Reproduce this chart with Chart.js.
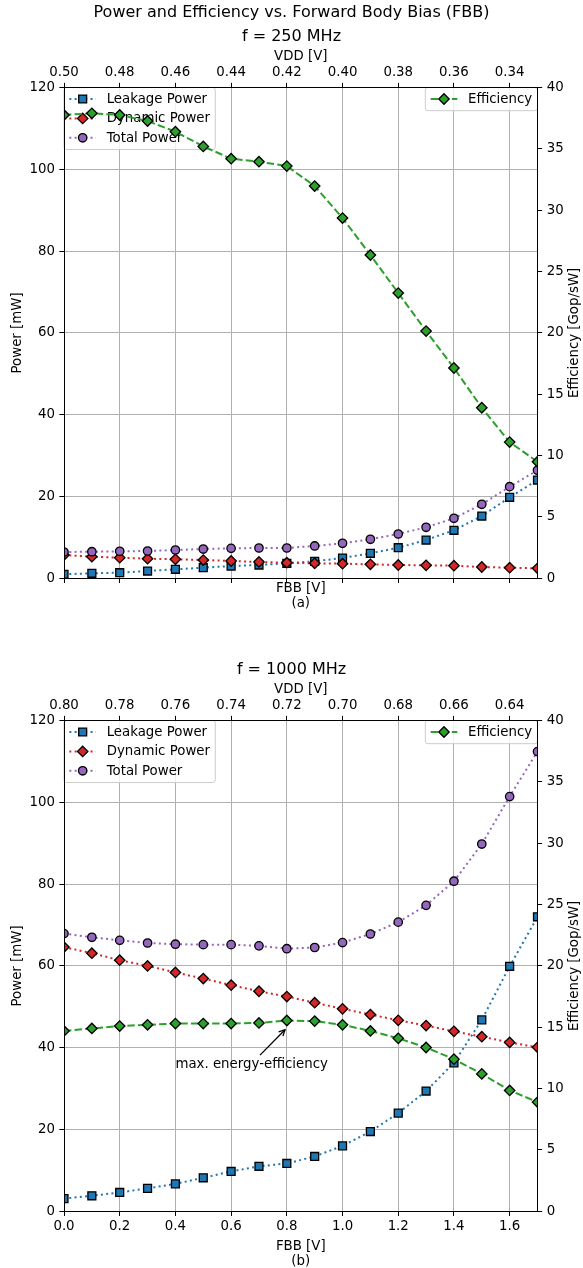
<!DOCTYPE html>
<html><head><meta charset="utf-8">
<script src="https://cdn.jsdelivr.net/npm/chart.js@4/dist/chart.umd.min.js"></script>
<style>
html,body{margin:0;padding:0;background:#fff;overflow:hidden;width:583px;height:1268px;}
canvas{position:absolute;left:0;}
#c1{top:0;}
#c2{top:633px;}
</style></head><body>
<canvas id="c1" width="583" height="611"></canvas>
<canvas id="c2" width="583" height="636"></canvas>
<script>
// ---------- data ----------
const fbb = [0.0,0.1,0.2,0.3,0.4,0.5,0.6,0.7,0.8,0.9,1.0,1.1,1.2,1.3,1.4,1.5,1.6,1.7];
const fbbTicks = [0.0,0.2,0.4,0.6,0.8,1.0,1.2,1.4,1.6];
const fbbTickLabels = ['0.0','0.2','0.4','0.6','0.8','1.0','1.2','1.4','1.6'];
const vddTicks250 = ['0.50','0.48','0.46','0.44','0.42','0.40','0.38','0.36','0.34'];
const vddTicks1000 = ['0.80','0.78','0.76','0.74','0.72','0.70','0.68','0.66','0.64'];

const leakage250 = [0.98,1.22,1.37,1.78,2.2,2.59,3.0,3.25,3.67,4.16,4.96,6.11,7.48,9.36,11.74,15.23,19.8,24.03];
const dynamic250 = [5.7,5.28,5.04,4.79,4.65,4.47,4.23,3.99,3.81,3.67,3.57,3.42,3.25,3.18,3.08,2.76,2.59,2.44];
const total250   = [6.43,6.5,6.6,6.67,6.92,7.16,7.33,7.41,7.41,7.9,8.56,9.54,10.83,12.47,14.67,18.09,22.4,26.41];
const eff250     = [37.76,37.9,37.76,37.27,36.4,35.2,34.2,33.95,33.6,31.97,29.36,26.35,23.25,20.15,17.14,13.9,11.1,9.5];

const leakage1000 = [3.1,3.8,4.6,5.6,6.7,8.2,9.75,11.0,11.7,13.4,16.0,19.5,24.0,29.4,36.3,46.8,59.9,72.0];
const dynamic1000 = [64.6,63.1,61.4,60.0,58.4,56.9,55.3,53.8,52.5,51.0,49.5,48.1,46.7,45.4,44.0,42.7,41.3,40.1];
const total1000   = [67.9,67.0,66.25,65.6,65.3,65.2,65.2,64.9,64.2,64.5,65.7,67.8,70.7,74.8,80.7,89.8,101.4,112.4];
const eff1000     = [14.7,14.9,15.1,15.2,15.3,15.3,15.3,15.35,15.55,15.5,15.2,14.7,14.1,13.35,12.4,11.2,9.85,8.9];

// ---------- styling ----------
const FONT = '"DejaVu Sans"';
const FS = 13.33;
const TFS = 16;
const LW = 2;
const DOT = [2, 3.3];
const DASH = [7.4, 3.2];
const C_LEAK = '#1f77b4', C_DYN = '#d62728', C_TOT = '#9467bd', C_EFF = '#2ca02c';

function ds(label, ys, color, dash, style, r, order, axis) {
  return {
    label, data: fbb.map((x, i) => ({x, y: ys[i]})),
    borderColor: color, backgroundColor: color, borderWidth: LW, borderDash: dash,
    pointStyle: style, pointRadius: r, pointHoverRadius: r,
    pointBackgroundColor: color, pointBorderColor: '#000', pointBorderWidth: 1.33,
    tension: 0, order, yAxisID: axis, fill: false, clip: 0
  };
}

function markerPath(ctx, style, x, y, r) {
  ctx.beginPath();
  if (style === 'rect') { const s = r * Math.SQRT1_2; ctx.rect(x - s, y - s, 2 * s, 2 * s); }
  else if (style === 'rectRot') { ctx.moveTo(x, y - r); ctx.lineTo(x + r, y); ctx.lineTo(x, y + r); ctx.lineTo(x - r, y); ctx.closePath(); }
  else { ctx.arc(x, y, r, 0, Math.PI * 2); }
}

function drawLegend(chart, idxs, corner) {
  const ctx = chart.ctx, ca = chart.chartArea;
  ctx.save();
  ctx.font = FS + 'px ' + FONT;
  const pad = 0.4 * FS, hl = 2 * FS, tp = 0.8 * FS, rowH = 19.4;
  const items = idxs.map(i => chart.data.datasets[i]);
  const maxW = Math.max(...items.map(d => ctx.measureText(d.label).width));
  const w = pad + hl + tp + maxW + pad;
  const h = 23.2 + (items.length - 1) * rowH;
  const x0 = corner === 'left' ? ca.left : ca.right - w;
  const y0 = ca.top;
  const rr = 2.6;
  ctx.beginPath();
  ctx.moveTo(x0 + rr, y0); ctx.lineTo(x0 + w - rr, y0); ctx.arcTo(x0 + w, y0, x0 + w, y0 + rr, rr);
  ctx.lineTo(x0 + w, y0 + h - rr); ctx.arcTo(x0 + w, y0 + h, x0 + w - rr, y0 + h, rr);
  ctx.lineTo(x0 + rr, y0 + h); ctx.arcTo(x0, y0 + h, x0, y0 + h - rr, rr);
  ctx.lineTo(x0, y0 + rr); ctx.arcTo(x0, y0, x0 + rr, y0, rr); ctx.closePath();
  ctx.fillStyle = 'rgba(255,255,255,0.8)'; ctx.fill();
  ctx.strokeStyle = '#cccccc'; ctx.lineWidth = 1; ctx.stroke();
  items.forEach((d, i) => {
    const cy = y0 + 11.5 + i * rowH;
    ctx.beginPath(); ctx.setLineDash(d.borderDash); ctx.strokeStyle = d.borderColor; ctx.lineWidth = LW;
    ctx.moveTo(x0 + pad, cy); ctx.lineTo(x0 + pad + hl, cy); ctx.stroke();
    ctx.setLineDash([]);
    markerPath(ctx, d.pointStyle, x0 + pad + hl / 2, cy, d.pointRadius);
    ctx.fillStyle = d.pointBackgroundColor; ctx.fill();
    ctx.strokeStyle = '#000'; ctx.lineWidth = 1.33; ctx.stroke();
    ctx.fillStyle = '#000'; ctx.textAlign = 'left'; ctx.textBaseline = 'middle';
    ctx.fillText(d.label, x0 + pad + hl + tp, cy + 0.5);
  });
  ctx.restore();
}

const figPlugin = {
  id: 'figPlugin',
  beforeDatasetDraw(chart, args) {
    if (args.index === 3) drawLegend(chart, [0, 1, 2], 'left');
  },
  afterDatasetsDraw(chart, args, opts) {
    drawLegend(chart, [3], 'right');
    const an = opts.annotation;
    if (an) {
      const ctx = chart.ctx, xs = chart.scales.x, ys = chart.scales.y2;
      ctx.save();
      ctx.font = FS + 'px ' + FONT;
      ctx.fillStyle = '#000'; ctx.textAlign = 'left'; ctx.textBaseline = 'alphabetic';
      const tx = xs.getPixelForValue(an.textX), ty = ys.getPixelForValue(an.textY);
      ctx.fillText(an.text, tx, ty);
      const tw = ctx.measureText(an.text).width;
      const cx = tx + tw / 2, cy = ty - 0.35 * FS;
      const px = xs.getPixelForValue(an.x), py = ys.getPixelForValue(an.y);
      let dx = px - cx, dy = py - cy; const L = Math.hypot(dx, dy); dx /= L; dy /= L;
      const top = ty - 0.85 * FS;
      const t = (top - cy) / dy;
      const sx = cx + dx * (t + 2.6), sy = cy + dy * (t + 2.6);
      const ex = px - dx * 2.6, ey = py - dy * 2.6;
      ctx.strokeStyle = '#000'; ctx.lineWidth = 1.3;
      ctx.beginPath(); ctx.moveTo(sx, sy); ctx.lineTo(ex, ey); ctx.stroke();
      const hlen = 6, hw = 3;
      const nx = -dy, ny = dx;
      ctx.beginPath();
      ctx.moveTo(ex - dx * hlen + nx * hw, ey - dy * hlen + ny * hw);
      ctx.lineTo(ex, ey);
      ctx.lineTo(ex - dx * hlen - nx * hw, ey - dy * hlen - ny * hw);
      ctx.stroke();
      ctx.restore();
    }
  },
  afterDraw(chart) {
    const ctx = chart.ctx, ca = chart.chartArea;
    ctx.save();
    ctx.font = FS + 'px ' + FONT; ctx.fillStyle = '#000';
    ctx.translate(575, (ca.top + ca.bottom) / 2); ctx.rotate(-Math.PI / 2);
    ctx.textAlign = 'center'; ctx.textBaseline = 'middle';
    ctx.fillText('Efficiency [Gop/sW]', 0, 0);
    ctx.restore();
  }
};

const tickFont = {family: FONT, size: FS, lineHeight: 1.2};
const border = {display: true, color: '#000', width: 1, z: 1};

function makeChart(id, cfg) {
  const setTicks = vals => s => { s.ticks = vals.map(v => ({value: v})); };
  const canvasH = document.getElementById(id).height;
  const tf = {family: FONT, size: TFS, weight: 'normal', lineHeight: 1.2};
  const titleBlock = cfg.sup ? {
    title: {display: true, text: cfg.sup, color: '#000', font: tf, padding: {top: 3.4, bottom: 5.1}},
    subtitle: {display: true, text: cfg.sub, color: '#000', font: tf, padding: {top: 0, bottom: 0}}
  } : {
    title: {display: true, text: cfg.sub, color: '#000', font: tf, padding: {top: 27.7, bottom: 0}},
    subtitle: {display: false}
  };
  return new Chart(document.getElementById(id), {
    type: 'line',
    data: {datasets: [
      ds('Leakage Power', cfg.leak, C_LEAK, DOT, 'rect', 5.6, 4, 'y'),
      ds('Dynamic Power', cfg.dyn, C_DYN, DOT, 'rectRot', 5.2, 3, 'y'),
      ds('Total Power', cfg.tot, C_TOT, DOT, 'circle', 4.2, 2, 'y'),
      ds('Efficiency', cfg.eff, C_EFF, DASH, 'rectRot', 5.2, 1, 'y2')
    ]},
    options: {
      responsive: false, animation: false, devicePixelRatio: 1, events: [],
      layout: {padding: 0},
      plugins: Object.assign({legend: {display: false}, tooltip: {enabled: false},
        figPlugin: {annotation: cfg.annotation}}, titleBlock),
      scales: {
        x: {
          type: 'linear', position: 'bottom', min: 0, max: 1.7,
          afterBuildTicks: setTicks(fbbTicks),
          afterFit: s => { s.height = canvasH - 578.3; },
          grid: {color: '#b0b0b0', lineWidth: 1, drawTicks: true, tickLength: 4.67, tickColor: '#000', tickWidth: 1},
          border,
          ticks: {display: cfg.showX, autoSkip: false, maxRotation: 0, color: '#000', font: tickFont, padding: 2.3,
            callback: (v, i) => fbbTickLabels[i]},
          title: {display: true, text: ['FBB [V]', cfg.tag], color: '#000', font: {family: FONT, size: FS, lineHeight: 1.13}, padding: {top: 0, bottom: 0}}
        },
        x2: {
          type: 'linear', position: 'top', min: 0, max: 1.7,
          afterBuildTicks: setTicks(fbbTicks),
          afterFit: s => { s.height = 40.6; },
          grid: {drawOnChartArea: false, drawTicks: true, tickLength: 4.67, tickColor: '#000', tickWidth: 1, color: '#000'},
          border,
          ticks: {autoSkip: false, maxRotation: 0, color: '#000', font: tickFont, padding: 2.3,
            callback: (v, i) => cfg.vdd[i]},
          title: {display: true, text: 'VDD [V]', color: '#000', font: {family: FONT, size: FS, lineHeight: 1.15}, padding: {top: 2.1, bottom: 0}}
        },
        y: {
          type: 'linear', position: 'left', min: 0, max: 120,
          afterFit: s => { s.width = 64; },
          grid: {color: '#b0b0b0', lineWidth: 1, drawTicks: true, tickLength: 4.67, tickColor: '#000', tickWidth: 1},
          border,
          ticks: {stepSize: 20, color: '#000', font: tickFont, padding: 4.4},
          title: {display: true, text: 'Power [mW]', color: '#000', font: {family: FONT, size: FS, lineHeight: 1.2}, padding: {top: 10, bottom: 0}}
        },
        y2: {
          type: 'linear', position: 'right', min: 0, max: 40,
          afterFit: s => { s.width = 45.5; },
          grid: {drawOnChartArea: false, drawTicks: true, tickLength: 4.67, tickColor: '#000', tickWidth: 1, color: '#000'},
          border,
          ticks: {stepSize: 5, color: '#000', font: tickFont, padding: 4.5}
        }
      }
    },
    plugins: [figPlugin]
  });
}

makeChart('c1', {
  sup: 'Power and Efficiency vs. Forward Body Bias (FBB)', sub: 'f = 250 MHz', tag: '(a)',
  leak: leakage250, dyn: dynamic250, tot: total250, eff: eff250, vdd: vddTicks250, showX: false
});
makeChart('c2', {
  sub: 'f = 1000 MHz', tag: '(b)',
  leak: leakage1000, dyn: dynamic1000, tot: total1000, eff: eff1000, vdd: vddTicks1000, showX: true,
  annotation: {text: 'max. energy-efficiency', textX: 0.4, textY: 11.65, x: 0.8, y: 14.95}
});
</script>
</body></html>
